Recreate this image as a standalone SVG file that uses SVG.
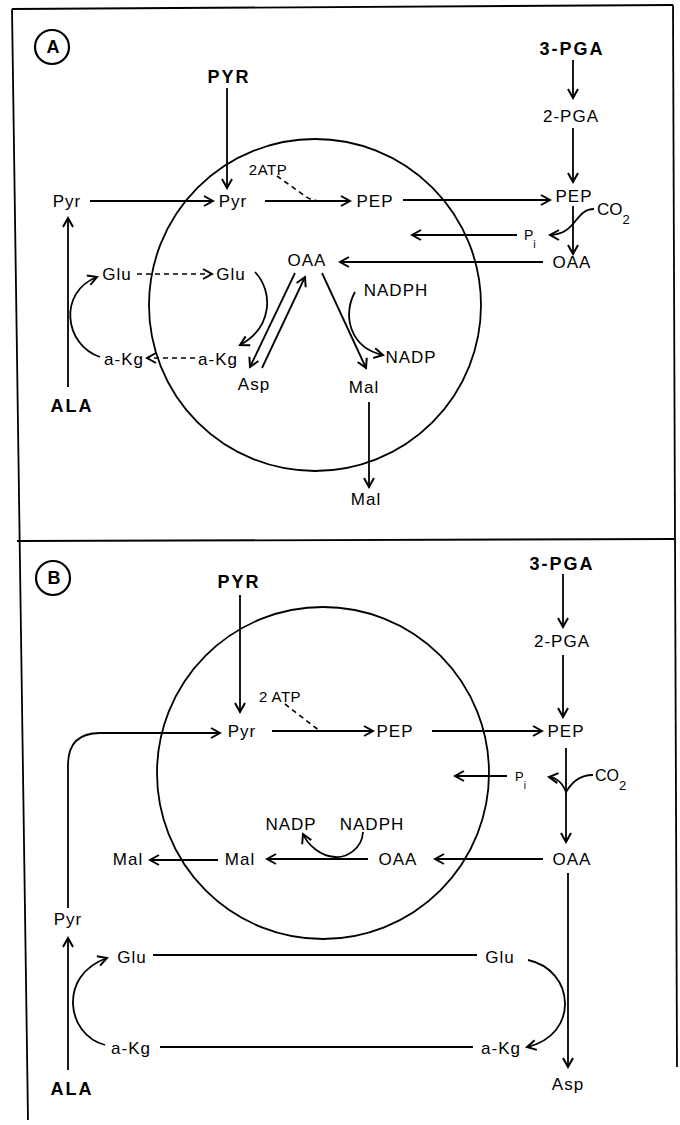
<svg xmlns="http://www.w3.org/2000/svg" width="680" height="1125" viewBox="0 0 680 1125">
<style>
text{font-family:"Liberation Sans",Arial,sans-serif;fill:#000}
.t{font-size:17px;letter-spacing:1px;text-anchor:middle}
.s{font-size:15px;letter-spacing:0.5px;text-anchor:middle}
.b{font-size:18px;font-weight:bold;letter-spacing:2px;text-anchor:middle}
.ln{fill:none;stroke:#000;stroke-width:1.8}
.ar{fill:none;stroke:#000;stroke-width:1.8;marker-end:url(#ah)}
.da{fill:none;stroke:#000;stroke-width:1.6;stroke-dasharray:5,4}
.dar{fill:none;stroke:#000;stroke-width:1.6;stroke-dasharray:5,4;marker-end:url(#ah)}
.cell{fill:none;stroke:#000;stroke-width:1.8}
</style>
<defs>
<marker id="ah" viewBox="0 0 12 12" refX="10" refY="6" markerWidth="12" markerHeight="12" markerUnits="userSpaceOnUse" orient="auto">
<path d="M1,1 L10,6 L1,11" fill="none" stroke="#000" stroke-width="2"/>
</marker>
</defs>
<rect width="680" height="1125" fill="#fff"/>
<g id="frame" class="ln">
<path d="M12,9 L673,5"/>
<path d="M12,9 L28,1120"/>
<path d="M673,5 L677,1067"/>
<path d="M17,541 L674,539"/>
</g>
<g id="cellA"><circle class="cell" cx="315" cy="305" r="166"/></g>
<g id="cellB"><circle class="cell" cx="323" cy="773" r="166"/></g>
<g id="labelA"><circle cx="52" cy="47" r="17" fill="none" stroke="#000" stroke-width="2.2"/><text class="b" x="53" y="53" style="letter-spacing:0">A</text></g>
<g id="labelB"><circle cx="53" cy="578" r="17" fill="none" stroke="#000" stroke-width="2.2"/><text class="b" x="54" y="584" style="letter-spacing:0">B</text></g>

<g id="connectorsA">
<path class="ar" d="M227,88 V188"/>
<path class="ar" d="M90,201 H213"/>
<path class="ar" d="M265,201 H350"/>
<path class="da" d="M277,176 L305,196 Q310,200 318,201"/>
<path class="ar" d="M403,200 H550"/>
<path class="ar" d="M573,60 V98"/>
<path class="ar" d="M573,128 V182"/>
<path class="ar" d="M573,206 V254"/>
<path class="ar" d="M594,209 C575,209 576,235 550,235"/>
<path class="ar" d="M517,235 H412"/>
<path class="ar" d="M543,262 H340"/>
<path class="dar" d="M137,274 H212"/>
<path class="dar" d="M195,358 H147"/>
<path class="ar" d="M255,272 C274,292 272,328 240,345"/>
<path class="ar" d="M68,387 V218"/>
<path class="ar" d="M100,357 C64,345 58,292 97,277"/>
<path class="ar" d="M295,273 L250,367"/>
<path class="ar" d="M262,368 L305,277"/>
<path class="ar" d="M322,273 L366,368"/>
<path class="ar" d="M355,292 C342,315 350,348 383,355"/>
<path class="ar" d="M369,402 V487"/>
</g>
<g id="connectorsB">
<path class="ar" d="M240,595 V712"/>
<path class="ar" d="M68,908 V765 Q68,733 100,733 H220"/>
<path class="ar" d="M272,731 H373"/>
<path class="da" d="M285,704 L316,728 Q320,731 326,731"/>
<path class="ar" d="M432,731 H542"/>
<path class="ar" d="M563,574 V627"/>
<path class="ar" d="M563,655 V717"/>
<path class="ar" d="M566,748 V842"/>
<path class="ar" d="M593,775 C578,775 571,784 566,792 C562,782 557,778 549,777"/>
<path class="ar" d="M507,776 H455"/>
<path class="ar" d="M543,859 H435"/>
<path class="ar" d="M368,859 H267"/>
<path class="ar" d="M218,860 H150"/>
<path class="ar" d="M363,832 C362,850 345,858 335,857 C320,856 308,845 303,834"/>
<path class="ar" d="M68,1070 V938"/>
<path class="ar" d="M105,1045 C66,1035 58,975 107,958"/>
<path class="ln" d="M153,955 H477"/>
<path class="ln" d="M160,1047 H473"/>
<path class="ar" d="M528,960 C575,970 580,1035 527,1047"/>
<path class="ar" d="M568,873 V1067"/>
</g>

<g id="A_PYR"><text class="b" x="229" y="83">PYR</text></g>
<g id="A_2ATP"><text class="s" x="268" y="175">2ATP</text></g>
<g id="A_PyrOut"><text class="t" x="67" y="207">Pyr</text></g>
<g id="A_PyrIn"><text class="t" x="233" y="207">Pyr</text></g>
<g id="A_PEPin"><text class="t" x="375" y="207">PEP</text></g>
<g id="A_PEPout"><text class="t" x="574" y="202">PEP</text></g>
<g id="A_3PGA"><text class="b" x="572" y="55">3-PGA</text></g>
<g id="A_2PGA"><text class="t" x="571" y="122">2-PGA</text></g>
<g id="A_CO2"><text x="597" y="215" style="font-size:17px">CO<tspan dy="9" style="font-size:13px">2</tspan></text></g>
<g id="A_Pi"><text x="524" y="240" style="font-size:14px">P<tspan dy="8" style="font-size:11px">i</tspan></text></g>
<g id="A_OAAout"><text class="t" x="572" y="268">OAA</text></g>
<g id="A_OAAin"><text class="t" x="307" y="266">OAA</text></g>
<g id="A_GluOut"><text class="t" x="117" y="280">Glu</text></g>
<g id="A_GluIn"><text class="t" x="231" y="280">Glu</text></g>
<g id="A_aKgOut"><text class="t" x="124" y="365">a-Kg</text></g>
<g id="A_aKgIn"><text class="t" x="218" y="365">a-Kg</text></g>
<g id="A_ALA"><text class="b" x="72" y="412">ALA</text></g>
<g id="A_Asp"><text class="t" x="254" y="390">Asp</text></g>
<g id="A_NADPH"><text class="t" x="396" y="296">NADPH</text></g>
<g id="A_NADP"><text class="t" x="411" y="363">NADP</text></g>
<g id="A_MalIn"><text class="t" x="364" y="393">Mal</text></g>
<g id="A_MalOut"><text class="t" x="366" y="505">Mal</text></g>

<g id="B_PYR"><text class="b" x="239" y="588">PYR</text></g>
<g id="B_2ATP"><text class="s" x="280" y="702">2 ATP</text></g>
<g id="B_PyrIn"><text class="t" x="242" y="737">Pyr</text></g>
<g id="B_PEPin"><text class="t" x="395" y="737">PEP</text></g>
<g id="B_PEPout"><text class="t" x="566" y="737">PEP</text></g>
<g id="B_3PGA"><text class="b" x="562" y="570">3-PGA</text></g>
<g id="B_2PGA"><text class="t" x="562" y="647">2-PGA</text></g>
<g id="B_CO2"><text x="595" y="781" style="font-size:16px">CO<tspan dy="9" style="font-size:13px">2</tspan></text></g>
<g id="B_Pi"><text x="515" y="781" style="font-size:13px">P<tspan dy="8" style="font-size:10px">i</tspan></text></g>
<g id="B_OAAout"><text class="t" x="572" y="865">OAA</text></g>
<g id="B_OAAin"><text class="t" x="398" y="865">OAA</text></g>
<g id="B_MalIn"><text class="t" x="240" y="865">Mal</text></g>
<g id="B_MalOut"><text class="t" x="128" y="865">Mal</text></g>
<g id="B_NADP"><text class="t" x="291" y="830">NADP</text></g>
<g id="B_NADPH"><text class="t" x="372" y="830">NADPH</text></g>
<g id="B_PyrOut"><text class="t" x="68" y="925">Pyr</text></g>
<g id="B_GluL"><text class="t" x="132" y="963">Glu</text></g>
<g id="B_aKgL"><text class="t" x="131" y="1054">a-Kg</text></g>
<g id="B_GluR"><text class="t" x="500" y="963">Glu</text></g>
<g id="B_aKgR"><text class="t" x="501" y="1054">a-Kg</text></g>
<g id="B_Asp"><text class="t" x="568" y="1090">Asp</text></g>
<g id="B_ALA"><text class="b" x="72" y="1095">ALA</text></g>
</svg>
